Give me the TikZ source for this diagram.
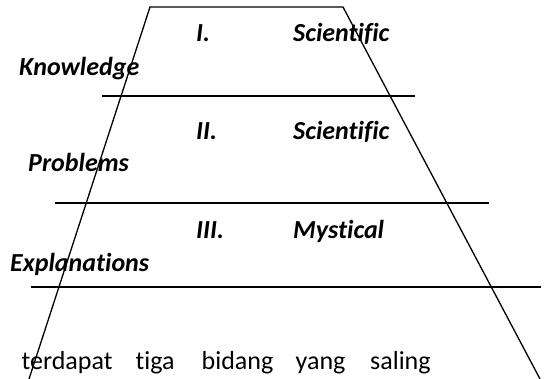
\documentclass[tikz,border=0pt]{standalone}
\usepackage{fontspec}
\setmainfont[Ligatures=NoCommon]{Carlito}
\begin{document}
\begin{tikzpicture}[x=1pt,y=-1pt,
  ln/.style={line width=1.3pt,black},
  lbl/.style={font=\fontsize{26}{30}\selectfont\bfseries\itshape,anchor=base west,inner sep=0pt},
  txt/.style={font=\fontsize{26}{30}\selectfont,anchor=base west,inner sep=0pt}]
\useasboundingbox (0,0) rectangle (545,379);
% trapezoid corners
\coordinate (tl) at (150,7);
\coordinate (tr) at (343,7);
\coordinate (bl) at (29,379);
\coordinate (br) at (540,379);
\draw[ln] (bl) -- (tl) -- (tr) -- (br);
% horizontal lines
\coordinate (h1a) at (102,96);  \coordinate (h1b) at (415,96);
\coordinate (h2a) at (55,203);  \coordinate (h2b) at (489,203);
\coordinate (h3a) at (31,287);  \coordinate (h3b) at (541,287);
\draw[ln] (h1a) -- (h1b);
\draw[ln] (h2a) -- (h2b);
\draw[ln] (h3a) -- (h3b);
% labels
\node[lbl] (n1) at (196,42) {I.};
\node[lbl] (s1) at (293,42) {Scientific};
\node[lbl] (k) at (19,76) {Knowledge};
\node[lbl] (n2) at (196,140) {II.};
\node[lbl] (s2) at (293,140) {Scientific};
\node[lbl] (p) at (28,172) {Problems};
\node[lbl] (n3) at (196,238) {III.};
\node[lbl] (m) at (293,238) {Mystical};
\node[lbl] (e) at (10,271) {Explanations};
% bottom text
\node[txt] (w1) at (21.5,369) {terdapat};
\node[txt] (w2) at (135.5,369) {tiga};
\node[txt] (w3) at (201.5,369) {bidang};
\node[txt] (w4) at (295.5,369) {yang};
\node[txt] (w5) at (370,369) {saling};
\end{tikzpicture}
\end{document}
